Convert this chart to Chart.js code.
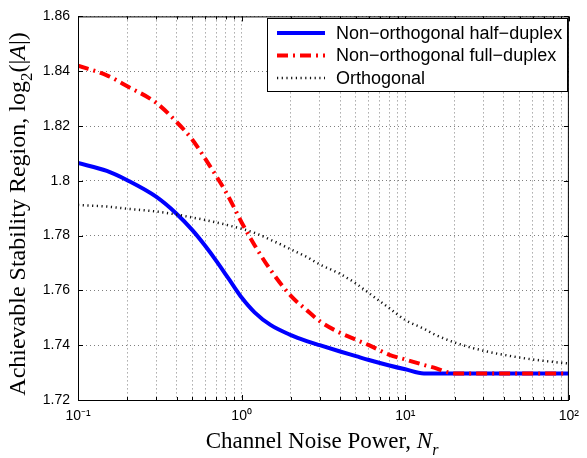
<!DOCTYPE html>
<html>
<head>
<meta charset="utf-8">
<script src="https://cdn.jsdelivr.net/npm/chart.js@4.4.1/dist/chart.umd.min.js"></script>
<style>
  html, body { margin: 0; padding: 0; background: #fff; }
</style>
</head>
<body>
<canvas id="stabilityChart" width="587" height="458"></canvas>
<script>
// channel noise power N_r (log x axis)
const noisePower = [0.1, 0.15, 0.2, 0.3, 0.4, 0.5, 0.6, 0.7, 0.8, 0.9, 1, 1.2, 1.5, 2, 2.5, 3, 4, 5, 6, 8, 10, 13, 15, 20, 30, 50, 70, 100];

// log2(|A|)
const halfDuplex = [1.8065, 1.8036, 1.8002, 1.7942, 1.7880, 1.7820, 1.7762, 1.7708, 1.7658, 1.7613, 1.7574, 1.7520, 1.7474, 1.7437, 1.7415, 1.7400, 1.7377, 1.7360, 1.7346, 1.7326, 1.7312, 1.7297, 1.7297, 1.7297, 1.7297, 1.7297, 1.7297, 1.7297];
const fullDuplex = [1.8420, 1.8385, 1.8345, 1.8285, 1.8215, 1.8150, 1.8080, 1.8017, 1.7960, 1.7902, 1.7848, 1.7765, 1.7675, 1.7580, 1.7528, 1.7488, 1.7445, 1.7420, 1.7400, 1.7365, 1.7348, 1.7328, 1.7318, 1.7297, 1.7297, 1.7297, 1.7297, 1.7297];
const orthogonal = [1.7912, 1.7906, 1.7898, 1.7888, 1.7877, 1.7866, 1.7857, 1.7848, 1.7840, 1.7832, 1.7825, 1.7810, 1.7785, 1.7750, 1.7722, 1.7695, 1.7660, 1.7625, 1.7590, 1.7535, 1.7492, 1.7460, 1.7440, 1.7410, 1.7380, 1.7355, 1.7343, 1.7333];

const seriesLabels = ["Non\u2212orthogonal half\u2212duplex", "Non\u2212orthogonal full\u2212duplex", "Orthogonal"];

// tick positions
const xTicks = [0.1, 0.2, 0.3, 0.4, 0.5, 0.6, 0.7, 0.8, 0.9, 1, 2, 3, 4, 5, 6, 7, 8, 9, 10, 20, 30, 40, 50, 60, 70, 80, 90, 100];
const xTickLabels = { 0.1: "10\u207B\u00B9", 1: "10\u2070", 10: "10\u00B9", 100: "10\u00B2" };
const yTicks = [1.72, 1.74, 1.76, 1.78, 1.8, 1.82, 1.84, 1.86];

const tickFont = { family: "'Liberation Sans', Arial, sans-serif", size: 14 };

function toPoints(ys) {
  return noisePower.map((x, i) => ({ x: x, y: ys[i] }));
}

function isDecade(v) {
  const e = Math.log10(v);
  return Math.abs(e - Math.round(e)) < 1e-9;
}

// box around plot + inward tick marks like matlab
const boxPlugin = {
  id: "box",
  afterDatasetsDraw(chart) {
    const { ctx, chartArea: a } = chart;
    const xs = chart.scales.x, ys = chart.scales.y;
    ctx.save();
    ctx.strokeStyle = "#000";
    ctx.lineWidth = 1;
    ctx.strokeRect(a.left + 0.5, a.top + 0.5, a.right - a.left - 1, a.bottom - a.top);
    ctx.beginPath();
    xTicks.forEach(v => {
      const px = Math.round(xs.getPixelForValue(v)) + 0.5;
      const len = isDecade(v) ? 5 : 3;
      ctx.moveTo(px, a.bottom); ctx.lineTo(px, a.bottom - len);
      ctx.moveTo(px, a.top); ctx.lineTo(px, a.top + len);
    });
    yTicks.forEach(v => {
      const py = Math.round(ys.getPixelForValue(v)) + 0.5;
      ctx.moveTo(a.left, py); ctx.lineTo(a.left + 5, py);
      ctx.moveTo(a.right, py); ctx.lineTo(a.right - 5, py);
    });
    ctx.stroke();
    ctx.restore();
  }
};

// legend box in the top right corner
const legendPlugin = {
  id: "boxLegend",
  afterDatasetsDraw(chart) {
    const ctx = chart.ctx;
    const left = 267, top = 18, right = 567, bottom = 91;
    ctx.save();
    ctx.fillStyle = "#fff";
    ctx.fillRect(left, top, right - left, bottom - top);
    ctx.strokeStyle = "#000";
    ctx.lineWidth = 1;
    ctx.strokeRect(left + 0.5, top + 0.5, right - left, bottom - top);
    chart.data.datasets.forEach((ds, i) => {
      const y = 33 + i * 22.5;
      ctx.save();
      ctx.strokeStyle = ds.borderColor;
      ctx.lineWidth = ds.borderWidth;
      ctx.setLineDash(ds.borderDash || []);
      ctx.beginPath();
      ctx.moveTo(277, y);
      ctx.lineTo(325, y);
      ctx.stroke();
      ctx.restore();
      ctx.fillStyle = "#000";
      ctx.font = "18px 'Liberation Sans', Arial, sans-serif";
      ctx.textBaseline = "middle";
      ctx.fillText(ds.label, 336, y + 1);
    });
    ctx.restore();
  }
};

// axis titles with subscript / italic parts
function drawRich(ctx, parts, x, y, size) {
  const fontOf = p => (p.italic ? "italic " : "") + (p.sub ? Math.round(size * 0.7) : size) + "px 'Liberation Serif', 'Times New Roman', serif";
  let total = 0;
  parts.forEach(p => { ctx.font = fontOf(p); total += ctx.measureText(p.t).width; });
  let cx = x - total / 2;
  parts.forEach(p => {
    ctx.font = fontOf(p);
    ctx.fillText(p.t, cx, y + (p.sub ? size * 0.3 : 0));
    cx += ctx.measureText(p.t).width;
  });
}

const titlePlugin = {
  id: "richTitles",
  afterDraw(chart) {
    const { ctx } = chart;
    ctx.save();
    ctx.fillStyle = "#000";
    ctx.textBaseline = "alphabetic";
    drawRich(ctx, [
      { t: "Channel Noise Power, " },
      { t: "N", italic: true },
      { t: "r", italic: true, sub: true }
    ], 322, 448, 23);
    ctx.translate(25, 214);
    ctx.rotate(-Math.PI / 2);
    drawRich(ctx, [
      { t: "Achievable Stability Region, log" },
      { t: "2", sub: true },
      { t: "(|" },
      { t: "A", italic: true },
      { t: "|)" }
    ], 0, 0, 24);
    ctx.restore();
  }
};

const ctx = document.getElementById("stabilityChart").getContext("2d");
const stabilityChart = new Chart(ctx, {
  type: "line",
  data: {
    datasets: [
      {
        label: seriesLabels[0],
        data: toPoints(halfDuplex),
        borderColor: "#0000ff",
        borderWidth: 4,
        order: 3
      },
      {
        label: seriesLabels[1],
        data: toPoints(fullDuplex),
        borderColor: "#ff0000",
        borderWidth: 4,
        borderDash: [11, 5, 2, 5],
        order: 1
      },
      {
        label: seriesLabels[2],
        data: toPoints(orthogonal),
        borderColor: "#111",
        borderWidth: 2.5,
        borderDash: [1.2, 3.5],
        order: 2
      }
    ]
  },
  options: {
    responsive: false,
    animation: false,
    cubicInterpolationMode: "monotone",
    elements: { point: { radius: 0 } },
    layout: { padding: { left: 0, top: 11, right: 11, bottom: 0 } },
    plugins: {
      legend: { display: false },
      tooltip: { enabled: false }
    },
    scales: {
      x: {
        type: "logarithmic",
        min: 0.1,
        max: 100,
        afterBuildTicks: s => { s.ticks = xTicks.map(v => ({ value: v, major: isDecade(v) })); },
        afterFit: s => { s.height = 58; },
        ticks: {
          autoSkip: false,
          maxRotation: 0,
          padding: 8,
          color: "#000",
          font: tickFont,
          callback: v => xTickLabels[v] || ""
        },
        grid: { color: "rgba(0,0,0,0.5)", drawTicks: false, lineWidth: 1 },
        border: { display: false, dash: [1, 3] }
      },
      y: {
        min: 1.72,
        max: 1.86,
        afterBuildTicks: s => { s.ticks = yTicks.map(v => ({ value: v })); },
        afterFit: s => { s.width = 78; },
        ticks: {
          padding: 8,
          color: "#000",
          font: tickFont,
          callback: v => String(+v.toFixed(2))
        },
        grid: { color: "rgba(0,0,0,0.5)", drawTicks: false, lineWidth: 1 },
        border: { display: false, dash: [1, 3] }
      }
    }
  },
  plugins: [boxPlugin, legendPlugin, titlePlugin]
});
</script>
</body>
</html>
